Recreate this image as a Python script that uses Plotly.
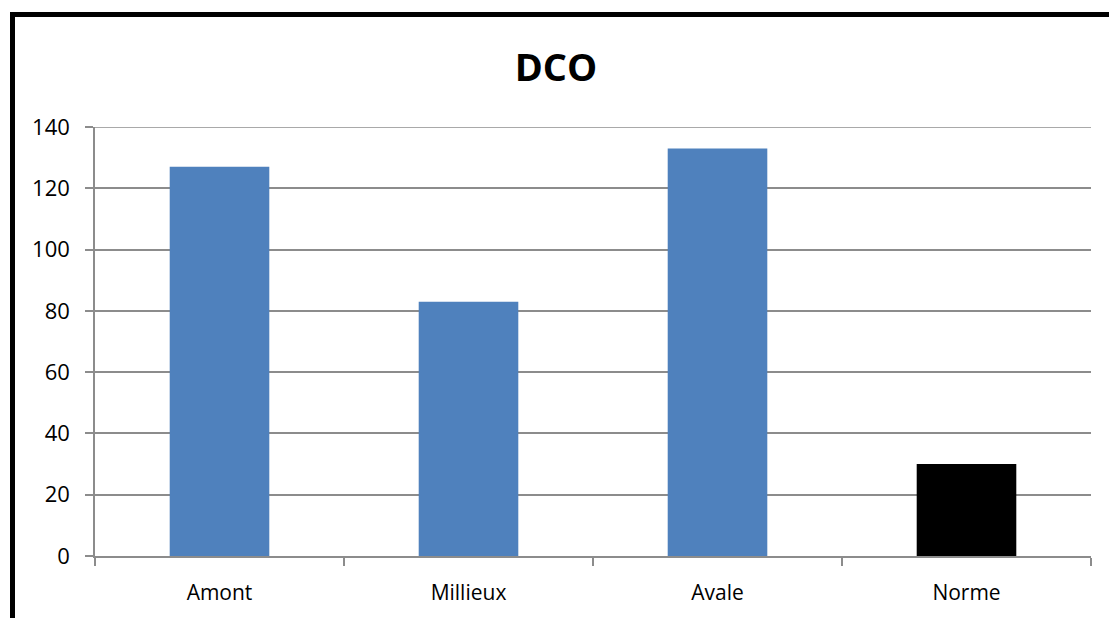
import plotly.graph_objects as go

# DCO values per sampling point, plus the regulatory norm
categories = ["Amont", "Millieux", "Avale", "Norme"]
values = [127, 83, 133, 30]
bar_colors = ["#4f81bd", "#4f81bd", "#4f81bd", "#000000"]
y_ticks = [0, 20, 40, 60, 80, 100, 120, 140]

W, H = 1109, 618
ML, MR, MT, MB = 95, 18, 127, 62
pw, ph = W - ML - MR, H - MT - MB


def px_x(p):
    return (p - ML) / pw


def px_y(p):
    return (H - MB - p) / ph


fig = go.Figure(
    go.Bar(
        x=categories,
        y=values,
        marker=dict(color=bar_colors, line=dict(width=0)),
        width=0.4,
    )
)

grid = "#8c8c8c"
font = "Open Sans, Liberation Sans, sans-serif"

fig.update_layout(
    width=W,
    height=H,
    margin=dict(l=ML, r=MR, t=MT, b=MB),
    paper_bgcolor="white",
    plot_bgcolor="white",
    showlegend=False,
    title=dict(
        text="<b>DCO</b>",
        x=556 / W,
        xanchor="center",
        y=1 - 68 / H,
        yanchor="middle",
        font=dict(family=font, size=38, color="black"),
    ),
    font=dict(family=font, size=22, color="black"),
    shapes=[
        # top gridline at the axis maximum
        dict(
            type="line",
            xref="paper",
            yref="y",
            x0=0,
            x1=1,
            y0=max(y_ticks),
            y1=max(y_ticks),
            line=dict(color=grid, width=1.5),
            layer="below",
        ),
        # frame around the chart
        dict(
            type="rect",
            xref="paper",
            yref="paper",
            x0=px_x(12.5),
            x1=px_x(1130),
            y0=px_y(640),
            y1=px_y(14.5),
            line=dict(color="black", width=5),
            fillcolor="rgba(0,0,0,0)",
            layer="above",
        ),
    ],
)

fig.update_xaxes(
    showgrid=False,
    showline=True,
    linecolor=grid,
    linewidth=1.5,
    ticks="outside",
    tickson="boundaries",
    ticklen=8,
    tickcolor=grid,
    tickwidth=1.5,
    ticklabelstandoff=17,
    tickfont=dict(size=21),
)

fig.update_yaxes(
    range=[0, 140],
    tickvals=y_ticks,
    showgrid=True,
    gridcolor=grid,
    gridwidth=1.5,
    zeroline=False,
    showline=True,
    linecolor=grid,
    linewidth=1.5,
    ticks="outside",
    ticklen=8,
    tickcolor=grid,
    tickwidth=1.5,
    ticklabelstandoff=11,
    tickfont=dict(size=22),
)

fig.write_html("out.html")
